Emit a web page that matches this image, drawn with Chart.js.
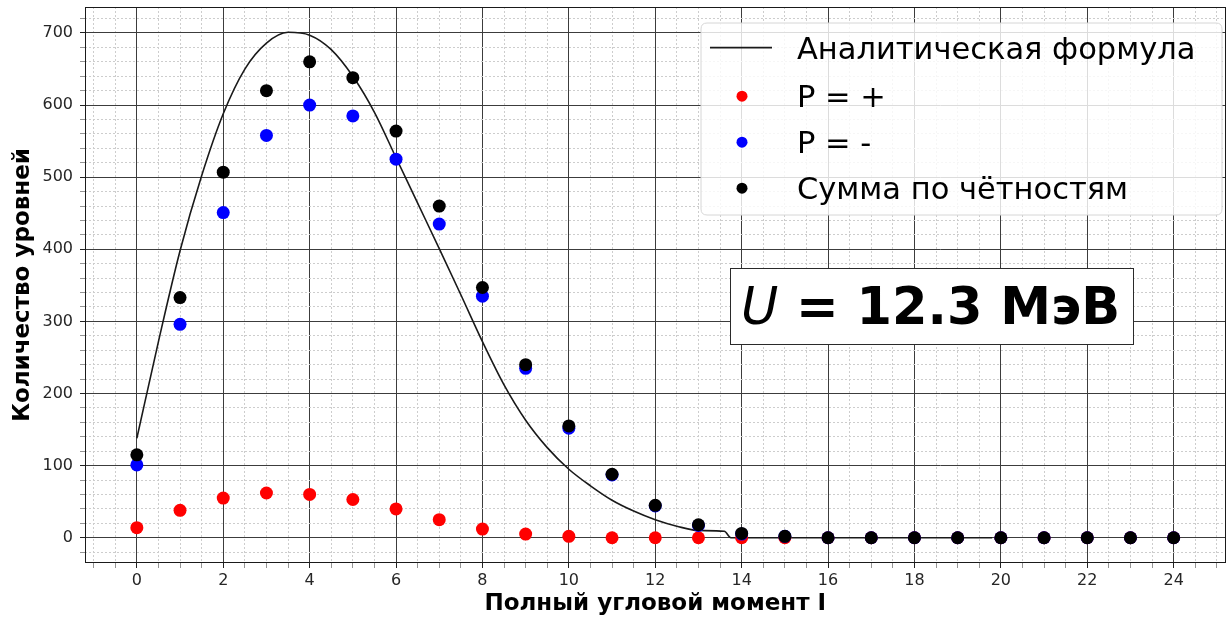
<!DOCTYPE html>
<html>
<head>
<meta charset="utf-8">
<script src="https://cdn.jsdelivr.net/npm/chart.js@4.4.1/dist/chart.umd.min.js"></script>
<style>
html,body{margin:0;padding:0;background:#fff;}
#wrap{width:1232px;height:618px;position:relative;}
</style>
</head>
<body>
<div id="wrap"><canvas id="c" width="1232" height="618"></canvas></div>
<script>
// ---- data ----
const angularMomentum = [0,1,2,3,4,5,6,7,8,9,10,11,12,13,14,15,16,17,18,19,20,21,22,23,24];
const parityPlus  = [14,38,55,62,60,53,40,25,12,5,2,0,0,0,0,0,0,0,0,0,0,0,0,0,0];
const parityMinus = [101,296,451,558,600,585,525,435,335,235,152,87,44,17,5,2,0,0,0,0,0,0,0,0,0];
const paritySum   = [115,333,507,620,660,638,564,460,347,240,155,88,45,18,6,2,0,0,0,0,0,0,0,0,0];
const formulaJ = [0,0.5,1,1.5,2,2.5,3,3.5,4,4.5,5,5.5,6,6.5,7,7.5,8,8.5,9,9.5,10,10.5,11,11.5,12,12.5,13,13.6,13.75,19.8];
const formulaN = [138,272,398,502,588,650,686,701,697,677,640,590,527,464,401,337,272,212,163,125,95,72,52,37,25,16,10,9,0,0];
const xMajorTicks = [0,2,4,6,8,10,12,14,16,18,20,22,24];
const yMajorTicks = [0,100,200,300,400,500,600,700];
const seriesLabels = ['Аналитическая формула','P = +','P = -','Сумма по чётностям'];
const xTitle = 'Полный угловой момент I';
const yTitle = 'Количество уровней';
const annotVar = 'U';
const annotRest = ' = 12.3 МэВ';

// ---- style helpers ----
const FONT = 'DejaVu Sans';
const xGrid = []; for (let v = -1; v <= 25.001; v += 0.5) xGrid.push(Math.round(v*2)/2);
const yGrid = []; for (let v = -20; v <= 720; v += 20) yGrid.push(v);
const pts = (xs, ys) => xs.map((x, i) => ({x: x, y: ys[i]}));
const xIsMajor = v => xMajorTicks.includes(v);
const yIsMajor = v => yMajorTicks.includes(v);

const overlay = {
  id: 'overlay',
  afterDraw(chart) {
    const ctx = chart.ctx;
    const a = chart.chartArea;
    ctx.save();
    // frame
    ctx.strokeStyle = '#1a1a1a'; ctx.lineWidth = 1;
    ctx.strokeRect(Math.round(a.left) + 0.5, Math.round(a.top) + 0.5, Math.round(a.right - a.left) - 1, Math.round(a.bottom - a.top) - 1);

    // legend
    const lx = 701, ly = 23, lw = 521, lh = 192, r = 6;
    ctx.beginPath();
    ctx.moveTo(lx + r, ly); ctx.lineTo(lx + lw - r, ly); ctx.quadraticCurveTo(lx + lw, ly, lx + lw, ly + r);
    ctx.lineTo(lx + lw, ly + lh - r); ctx.quadraticCurveTo(lx + lw, ly + lh, lx + lw - r, ly + lh);
    ctx.lineTo(lx + r, ly + lh); ctx.quadraticCurveTo(lx, ly + lh, lx, ly + lh - r);
    ctx.lineTo(lx, ly + r); ctx.quadraticCurveTo(lx, ly, lx + r, ly); ctx.closePath();
    ctx.fillStyle = 'rgba(255,255,255,0.82)'; ctx.fill();
    ctx.strokeStyle = '#d6d6d6'; ctx.lineWidth = 1; ctx.stroke();

    const rows = [47.6, 96.2, 142.2, 188.2];
    const fs = 30.5;
    ctx.font = fs + 'px "' + FONT + '"';
    ctx.textBaseline = 'alphabetic';
    ctx.textAlign = 'left';
    chart.data.datasets.forEach((ds, i) => {
      const y = rows[i];
      if (i === 0) {
        ctx.strokeStyle = ds.borderColor; ctx.lineWidth = 1.6;
        ctx.beginPath(); ctx.moveTo(710, y); ctx.lineTo(772, y); ctx.stroke();
      } else {
        ctx.fillStyle = ds.backgroundColor;
        ctx.beginPath(); ctx.arc(742, y, 5.5, 0, Math.PI * 2); ctx.fill();
      }
      ctx.fillStyle = '#000';
      ctx.fillText(ds.label, 797, y + 0.3645 * fs);
    });

    // annotation box
    ctx.fillStyle = '#fff';
    ctx.fillRect(730, 268, 404, 77);
    ctx.strokeStyle = '#2a2a2a'; ctx.lineWidth = 1;
    ctx.strokeRect(730.5, 268.5, 403, 76);
    const afs = 51;
    ctx.fillStyle = '#000';
    ctx.font = 'italic ' + afs + 'px "' + FONT + '"';
    ctx.fillText(annotVar, 741, 324);
    const w = ctx.measureText(annotVar).width;
    ctx.font = 'bold ' + afs + 'px "' + FONT + '"';
    ctx.fillText(annotRest, 741 + w, 324);
    ctx.restore();
  }
};

new Chart(document.getElementById('c').getContext('2d'), {
  type: 'scatter',
  data: {
    datasets: [
      {label: seriesLabels[0], data: pts(formulaJ, formulaN), showLine: true, borderColor: '#1a1a1a', backgroundColor: '#1a1a1a',
       borderWidth: 1.6, pointRadius: 0, cubicInterpolationMode: 'monotone', fill: false, order: 3},
      {label: seriesLabels[1], data: pts(angularMomentum, parityPlus), backgroundColor: '#ff0000', borderWidth: 0, pointRadius: 6.5, order: 2},
      {label: seriesLabels[2], data: pts(angularMomentum, parityMinus), backgroundColor: '#0000ff', borderWidth: 0, pointRadius: 6.5, order: 1},
      {label: seriesLabels[3], data: pts(angularMomentum, paritySum), backgroundColor: '#000000', borderWidth: 0, pointRadius: 6.5, order: 0}
    ]
  },
  options: {
    responsive: false, animation: false, devicePixelRatio: 1,
    layout: {padding: {left: 0, top: 7, right: 4, bottom: 0}},
    plugins: {legend: {display: false}, tooltip: {enabled: false}},
    scales: {
      x: {
        type: 'linear', min: -1.2, max: 25.2,
        afterBuildTicks: s => { s.ticks = xGrid.map(v => ({value: v})); },
        afterFit: s => { s.height = 55; s.paddingLeft = 0; s.paddingRight = 0; },
        ticks: {autoSkip: false, maxRotation: 0, minRotation: 0, padding: 3,
                callback: v => xIsMajor(v) ? String(v) : '',
                font: {family: FONT, size: 16}, color: '#262626'},
        grid: {
          color: c => xIsMajor(c.tick.value) ? '#3c3c3c' : '#cdcdcd',
          lineWidth: 1,
          tickLength: 5,
          tickColor: c => xIsMajor(c.tick.value) ? '#222' : '#666',
          tickWidth: c => xIsMajor(c.tick.value) ? 1 : 0.7
        },
        border: {display: false, dash: c => xIsMajor(c.tick.value) ? [] : [2, 2]},
        title: {display: true, text: xTitle, color: '#000', padding: {top: 0, bottom: 0},
                font: {family: FONT, size: 23, weight: 'bold'}}
      },
      y: {
        type: 'linear', min: -35.05, max: 736.05,
        afterBuildTicks: s => { s.ticks = yGrid.map(v => ({value: v})); },
        afterFit: s => { s.width = 85; s.paddingTop = 0; s.paddingBottom = 0; },
        ticks: {autoSkip: false, padding: 7,
                callback: v => yIsMajor(v) ? String(v) : '',
                font: {family: FONT, size: 16}, color: '#262626'},
        grid: {
          color: c => yIsMajor(c.tick.value) ? '#3c3c3c' : '#cdcdcd',
          lineWidth: 1,
          tickLength: 5,
          tickColor: c => yIsMajor(c.tick.value) ? '#222' : '#666',
          tickWidth: c => yIsMajor(c.tick.value) ? 1 : 0.7
        },
        border: {display: false, dash: c => yIsMajor(c.tick.value) ? [] : [2, 2]},
        title: {display: true, text: yTitle, color: '#000', padding: {top: 9, bottom: 0},
                font: {family: FONT, size: 23, weight: 'bold'}}
      }
    }
  },
  plugins: [overlay]
});
</script>
</body>
</html>
